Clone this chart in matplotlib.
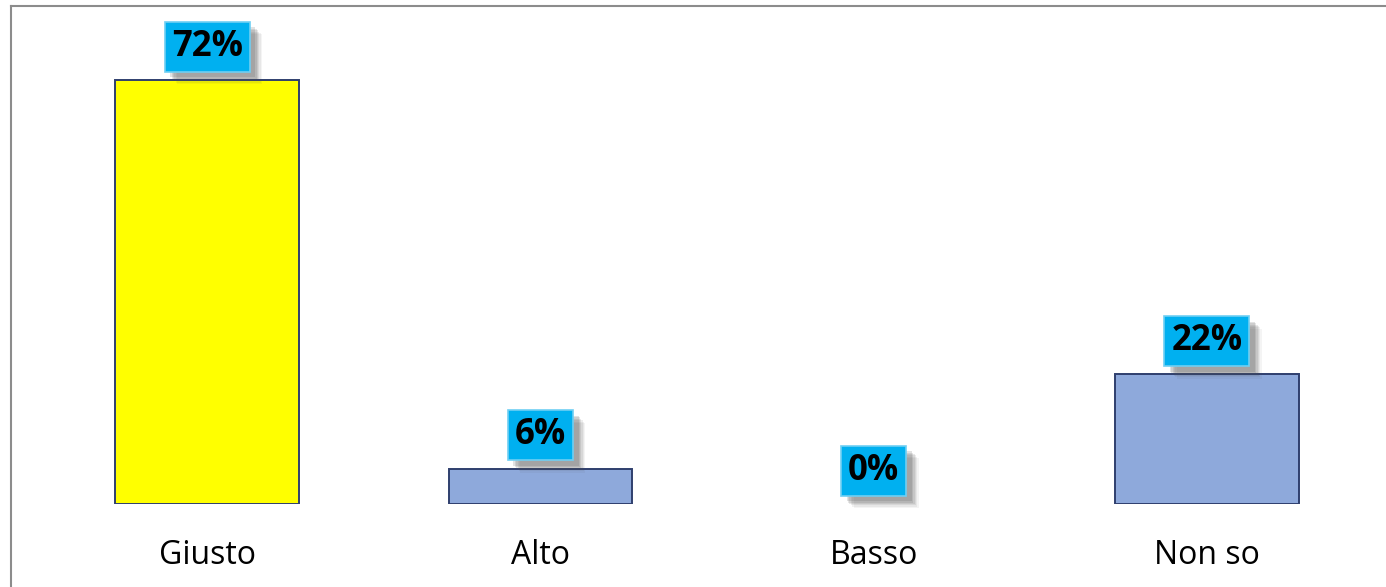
import matplotlib.pyplot as plt
import matplotlib.patheffects as pe
from matplotlib.lines import Line2D

categories = ['Giusto', 'Alto', 'Basso', 'Non so']
values = [72, 6, 0, 22]
labels = ['72%', '6%', '0%', '22%']
bar_colors = ['#FFFF00', '#8EA9DB', '#8EA9DB', '#8EA9DB']

W, H = 1386, 587
fig = plt.figure(figsize=(W / 100, H / 100), dpi=100)
ax = fig.add_axes([40.5 / W, (H - 504) / H, 1333 / W, 471 / H])

x = list(range(len(categories)))
edge_w = [1.4 if v > 0 else 0 for v in values]
ax.bar(x, values, width=0.55, color=bar_colors, edgecolor='#2F3F6E', linewidth=edge_w, zorder=2)

ax.set_xlim(-0.5, len(categories) - 0.5)
ax.set_ylim(0, 80)
for s in ax.spines.values():
    s.set_visible(False)
ax.set_yticks([])
ax.set_xticks(x)
ax.set_xticklabels(categories, fontsize=23, family='Open Sans', color='#000000', va='center')
ax.tick_params(axis='x', length=0, pad=37)

# soft shadow for the label boxes
shadow = []
for off, a in [((9, -9), 0.06), ((8, -8), 0.08), ((7, -7), 0.1), ((6, -6), 0.12),
               ((5, -5), 0.14), ((4, -4), 0.16)]:
    shadow.append(pe.SimplePatchShadow(offset=off, shadow_rgbFace='#505050', alpha=a))
shadow.append(pe.Normal())

for xi, v, lab in zip(x, values, labels):
    t = ax.annotate(lab, xy=(xi, v), xytext=(0, 24), textcoords='offset points',
                    ha='center', va='center', fontsize=25, fontweight='bold',
                    family='Open Sans', color='#000000', zorder=5,
                    bbox=dict(boxstyle='square,pad=0.2', facecolor='#00B0F0',
                              edgecolor='#6FCFF3', linewidth=1.2))
    t.get_bbox_patch().set_path_effects(shadow)

# outer frame (top and left edges visible)
fx = 11 / W
fy = (H - 6) / H
fig.add_artist(Line2D([fx, fx], [0, fy], color='#8C8C8C', linewidth=1.5))
fig.add_artist(Line2D([fx, 1], [fy, fy], color='#8C8C8C', linewidth=1.5))

fig.savefig('out.png', dpi=100, facecolor='white')
